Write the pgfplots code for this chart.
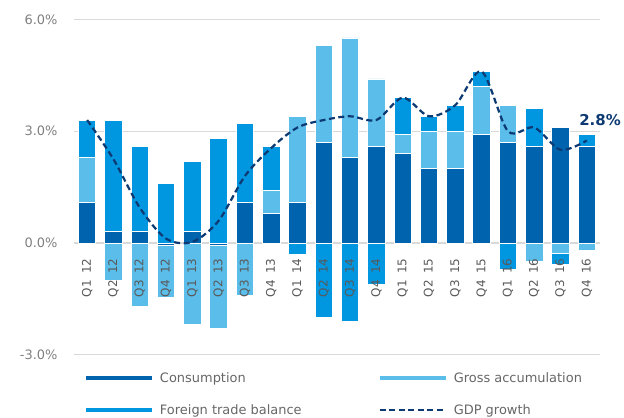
\documentclass[border=0pt]{standalone}
\usepackage{fontspec}
\setmainfont{DejaVu Sans}
\usepackage{pgfplots}
\usepackage{pgfplotstable}
\pgfplotsset{compat=1.18}
\definecolor{consC}{HTML}{0063AD}
\definecolor{grossC}{HTML}{5BBDEA}
\definecolor{forC}{HTML}{0096E0}
\definecolor{gdpC}{HTML}{0D3A72}
\definecolor{gridC}{HTML}{D9D9D9}
\definecolor{tickC}{HTML}{7F7F7F}
\definecolor{xtickC}{HTML}{595959}
\definecolor{legC}{HTML}{666666}

\pgfplotstableread{
x cons gross fore
0 1.1 1.2 1.0
1 0.3 0 3.0
2 0.3 0 2.3
3 0 0 1.6
4 0.3 0 1.9
5 0 0 2.8
6 1.1 0 2.1
7 0.8 0.6 1.2
8 1.1 2.3 0
9 2.7 2.6 0
10 2.3 3.2 0
11 2.6 1.8 0
12 2.4 0.5 1.0
13 2.0 1.0 0.4
14 2.0 1.0 0.7
15 2.9 1.3 0.4
16 2.7 1.0 0
17 2.6 0 1.0
18 3.1 0 0
19 2.6 0 0.3
}\postable

\pgfplotstableread{
x cons gross fore
0 0 0 0
1 0 -1.0 0
2 0 -1.7 0
3 -0.05 -1.42 0
4 0 -2.17 0
5 -0.05 -2.23 0
6 0 -1.4 0
7 0 0 0
8 0 0 -0.3
9 0 0 -2.0
10 0 0 -2.1
11 0 0 -1.1
12 0 0 0
13 0 0 0
14 0 0 0
15 0 0 0
16 0 0 -0.7
17 0 -0.5 0
18 0 -0.27 -0.3
19 0 -0.2 0
}\negtable

\pgfplotstableread{
x gdp
0 3.3
1 2.25
2 0.95
3 0.12
4 0.03
5 0.6
6 1.8
7 2.55
8 3.1
9 3.3
10 3.4
11 3.3
12 3.9
13 3.4
14 3.7
15 4.6
16 3.0
17 3.1
18 2.5
19 2.75
}\gdptable

\newcommand{\q}[2]{Q#1\hspace{2.5bp} #2}

\pgfplotsset{
  base/.style={at={(74bp,63bp)}, anchor=south west, scale only axis,
    width=526bp, height=335.7bp, xmin=-0.5, xmax=19.5, ymin=-3, ymax=6},
  barstyle/.style={draw=white, line width=0.9bp},
  mybarlegend/.style={legend image code/.code={%
      \fill[#1, draw=none] (0bp,-2.25bp) rectangle (66bp,2.25bp);
      \path[draw=none, fill=none] (0bp,-1bp) rectangle (74bp,1bp);}},
  mylinelegend/.style={legend image code/.code={%
      \draw[##1] (0bp,0bp) -- (66bp,0bp);
      \path[draw=none, fill=none] (0bp,-1bp) rectangle (74bp,1bp);}},
}

\begin{document}
\begin{tikzpicture}
\path[use as bounding box] (0,0) rectangle (624bp,418bp);
% grid and positive parts
\begin{axis}[base, ybar stacked, bar width=17.5bp,
  axis line style={draw=none}, major tick length=0pt,
  xtick=\empty, ytick={-3,0,3,6}, yticklabels={},
  ymajorgrids, grid style={gridC, line width=1bp},
  extra y ticks={0}, extra y tick labels={},
  extra y tick style={grid style={gridC, line width=2.5bp}},
]
\addplot[barstyle, fill=consC] table[x=x, y=cons] {\postable};
\addplot[barstyle, fill=grossC] table[x=x, y=gross] {\postable};
\addplot[barstyle, fill=forC] table[x=x, y=fore] {\postable};
\end{axis}
% negative parts
\begin{axis}[base, hide axis, ybar stacked, bar width=17.5bp]
\addplot[barstyle, fill=consC] table[x=x, y=cons] {\negtable};
\addplot[barstyle, fill=grossC] table[x=x, y=gross] {\negtable};
\addplot[barstyle, fill=forC] table[x=x, y=fore] {\negtable};
\end{axis}
% tick labels, GDP line and legend
\begin{axis}[base, clip=false,
  axis x line=middle, axis y line=left, axis line style={draw=none},
  hide obscured x ticks=false, hide obscured y ticks=false,
  major tick length=0pt,
  xtick={0,...,19},
  xticklabels={\q{1}{12},\q{2}{12},\q{3}{12},\q{4}{12},\q{1}{13},\q{2}{13},\q{3}{13},\q{4}{13},\q{1}{14},\q{2}{14},\q{3}{14},\q{4}{14},\q{1}{15},\q{2}{15},\q{3}{15},\q{4}{15},\q{1}{16},\q{2}{16},\q{3}{16},\q{4}{16}},
  ytick={-3,0,3,6},
  yticklabels={-3.0\%,0.0\%,3.0\%,6.0\%},
  yticklabel style={font=\fontsize{13}{15}\selectfont, text=tickC, xshift=-13bp},
  xticklabel style={font=\fontsize{12}{14}\selectfont, text=xtickC, rotate=90, anchor=east, xshift=-12bp},
  legend columns=2,
  legend style={at={(axis description cs:0.02281,-0.05139)}, anchor=north west,
    draw=none, fill=none, inner sep=0pt, outer sep=0pt,
    column sep=0pt, row sep=20.5bp,
    nodes={inner sep=0pt, text=legC, font=\fontsize{13}{15}\selectfont,
      text height=10bp, text depth=1.5bp, anchor=west},
    /tikz/every even column/.append style={column sep=77bp}},
]
\addlegendimage{mybarlegend=consC}
\addlegendentry{Consumption}
\addlegendimage{mybarlegend=grossC}
\addlegendentry{Gross accumulation}
\addlegendimage{mybarlegend=forC}
\addlegendentry{Foreign trade balance}
\addplot[gdpC, line width=2.2bp, dash pattern=on 6bp off 3.5bp, smooth, tension=0.5, mylinelegend]
  table[x=x, y=gdp] {\gdptable};
\addlegendentry{GDP growth}
\node[font=\bfseries\fontsize{15}{17}\selectfont, text=gdpC] at (axis cs:19.5,3.3) {2.8\%};
\end{axis}
\end{tikzpicture}
\end{document}
